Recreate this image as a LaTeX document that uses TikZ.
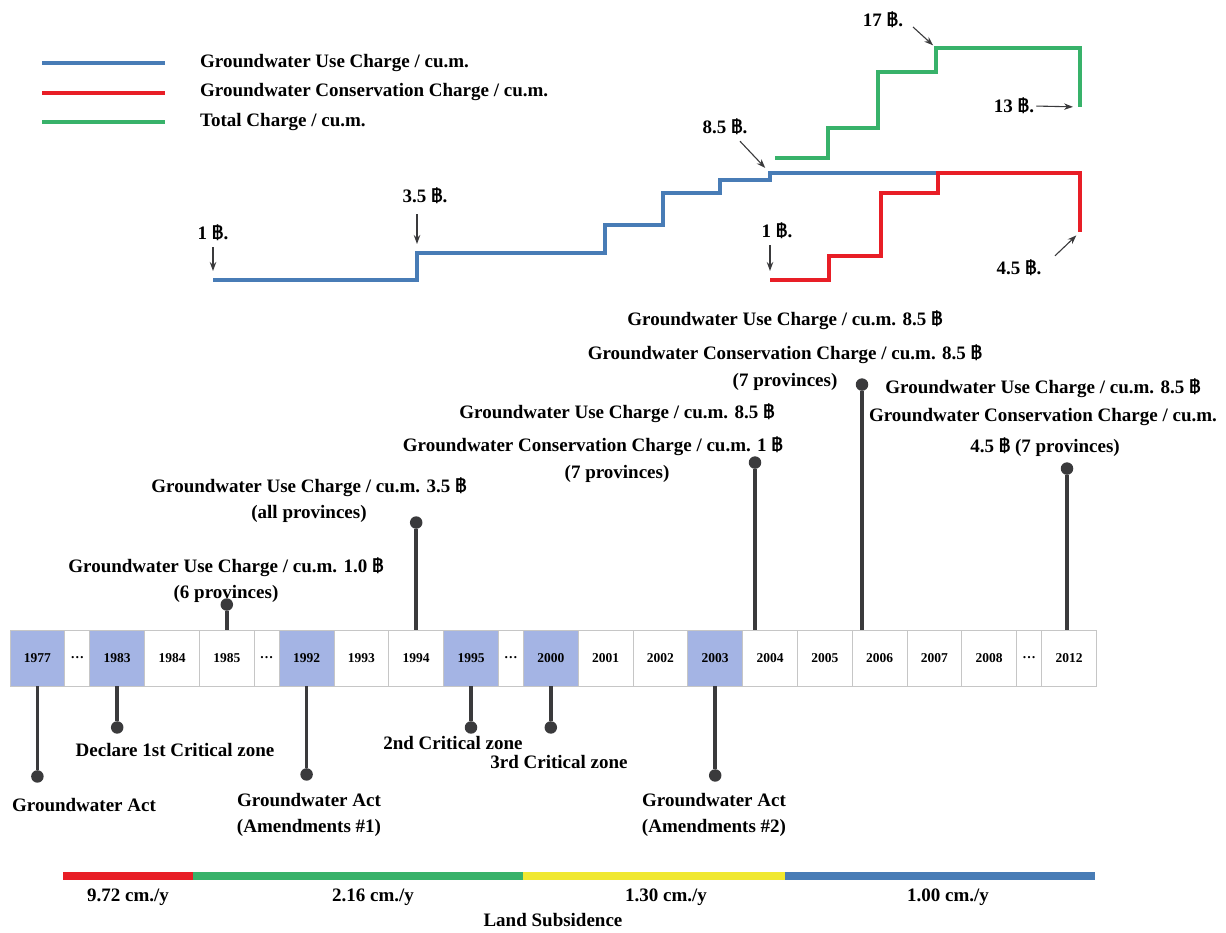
\documentclass[tikz,border=0pt]{standalone}
\usepackage{xcolor}
\usepackage{fontspec}
\setmainfont{Liberation Serif}
\newfontfamily\bahtfont{Loma}
\usepackage{tikz}
\usetikzlibrary{arrows.meta, positioning}
\definecolor{usecharge}{RGB}{72,124,182}
\definecolor{conscharge}{RGB}{232,30,38}
\definecolor{totalcharge}{RGB}{56,178,106}
\definecolor{subsyellow}{RGB}{240,232,48}
\definecolor{critical}{RGB}{164,180,228}
\definecolor{stemgray}{RGB}{58,58,60}
\newcommand{\baht}{{\bahtfont\bfseries ฿}}

\begin{document}
\begin{tikzpicture}[x=1pt, y=-1pt,
    every node/.style={font=\fontsize{19}{26}\selectfont\bfseries},
    note/.style={align=center, inner sep=0pt},
    yearbox/.style={draw=gray!45, line width=1pt, fill=white, minimum width=54.8pt,
        minimum height=56pt, inner sep=0pt, outer sep=0pt,
        font=\fontsize{13.5}{16}\selectfont\bfseries},
    gapbox/.style={yearbox, minimum width=25pt},
    zonebox/.style={yearbox, fill=critical},
    pindot/.style={circle, fill=stemgray, minimum size=12.5pt, inner sep=0pt},
    stem/.style={stemgray, line width=3.6pt},
    stepline/.style={line width=4.2pt},
    pointer/.style={-{Stealth[length=9pt,width=6.5pt]}, stemgray, line width=1.1pt}]
    \useasboundingbox (0,0) rectangle (1226,932);

    % legend
    \draw[stepline, usecharge] (42,63) -- (165,63);
    \draw[stepline, conscharge] (42,93) -- (165,93);
    \draw[stepline, totalcharge] (42,122) -- (165,122);
    \node[note, anchor=west] (leg1) at (200,63) {Groundwater Use Charge / cu.m.};
    \node[note, anchor=west] (leg2) at (200,92) {Groundwater Conservation Charge / cu.m.};
    \node[note, anchor=west] (leg3) at (200,122) {Total Charge / cu.m.};

    % charge steps
    \coordinate (u1) at (213,280);
    \coordinate (u35) at (417,253);
    \coordinate (u85) at (770,173);
    \coordinate (c1) at (770,280);
    \coordinate (c45) at (1080,232);
    \coordinate (t17) at (936,48);
    \coordinate (t13) at (1080,107);
    \draw[stepline, usecharge] (u1) -| (u35) -| (605,225) -| (663,193) -| (720,180) -| (u85) -- (938,173);
    \draw[stepline, conscharge] (c1) -| (829,256) -| (881,193) -| (938,173) -- (1080,173) -- (c45);
    \draw[stepline, totalcharge] (775,158) -| (828,128) -| (878,72) -| (t17) -- (1080,48) -- (t13);

    \node[note] (l1) at (213,233) {1 \baht.};
    \node[note] (l35) at (425,196) {3.5 \baht.};
    \node[note] (l85) at (725,127) {8.5 \baht.};
    \node[note] (l1c) at (777,231) {1 \baht.};
    \node[note] (l45) at (1019,268) {4.5 \baht.};
    \node[note] (l17) at (883,20) {17 \baht.};
    \node[note] (l13) at (1014,106) {13 \baht.};
    \draw[pointer, shorten <=6pt, shorten >=9pt] (l1.south -| u1) -- (u1);
    \draw[pointer, shorten <=10pt, shorten >=9pt] (l35.south -| u35) -- (u35);
    \draw[pointer, shorten <=6pt, shorten >=9pt] (l1c.south -| c1) -- (c1);
    \draw[pointer, shorten >=7pt] ([shift={(15,6)}]l85.south) -- (u85);
    \draw[pointer, shorten >=5pt] ([shift={(36,-4)}]l45.north) -- (c45);
    \draw[pointer, shorten >=4pt] ([shift={(30,7)}]l17.center) -- (t17);
    \draw[pointer, shorten <=2pt, shorten >=7pt] (l13.east) -- (t13);

    % time line
    \node[zonebox] (y1977) at (37.4,658) {1977};
    \foreach \n/\t/\s [remember=\n as \p (initially y1977)] in
        {g1/\dots/gapbox, y1983/1983/zonebox, y1984/1984/yearbox, y1985/1985/yearbox,
         g2/\dots/gapbox, y1992/1992/zonebox, y1993/1993/yearbox, y1994/1994/yearbox,
         y1995/1995/zonebox, g3/\dots/gapbox, y2000/2000/zonebox, y2001/2001/yearbox,
         y2002/2002/yearbox, y2003/2003/zonebox, y2004/2004/yearbox, y2005/2005/yearbox,
         y2006/2006/yearbox, y2007/2007/yearbox, y2008/2008/yearbox, g4/\dots/gapbox,
         y2012/2012/yearbox}
        \node[\s, right=0pt of \p] (\n) {\t};

    % events below
    \node[pindot, below=84pt of y1977] (k1977) {};
    \node[pindot, below=35pt of y1983] (k1983) {};
    \node[pindot, below=82pt of y1992] (k1992) {};
    \node[pindot, below=35pt of y1995] (k1995) {};
    \node[pindot, below=35pt of y2000] (k2000) {};
    \node[pindot, below=83pt of y2003] (k2003) {};
    \foreach \k in {1977,1983,1992,1995,2000,2003}
        \draw[stem] (y\k.south) -- (k\k);

    % charges above
    \node[pindot, above=19pt of y1985] (k1985) {};
    \node[pindot, above=101pt of y1994] (k1994) {};
    \node[pindot, above=161pt of y2004, xshift=-15pt] (k2004) {};
    \node[pindot, above=239pt of y2006, xshift=-17.6pt] (k2006) {};
    \node[pindot, above=155pt of y2012, xshift=-2pt] (k2012) {};
    \foreach \k in {1985,1994,2004,2006,2012}
        \draw[stem] (k\k) -- (k\k |- y\k.north);

    \node[note] (n1977) at (84,805) {Groundwater Act};
    \node[note] (n1983) at (175,750) {Declare 1st Critical zone};
    \node[note] (n1992) at (309,815) {Groundwater Act\\(Amendments \#1)};
    \node[note] (n1995) at (453,743) {2nd Critical zone};
    \node[note] (n2000) at (559,762) {3rd Critical zone};
    \node[note] (n2003) at (714,815) {Groundwater Act\\(Amendments \#2)};

    \node[note] (n1985) at (226,580) {Groundwater Use Charge / cu.m. 1.0 \baht\\(6 provinces)};
    \node[note] (n1994) at (309,500) {Groundwater Use Charge / cu.m. 3.5 \baht\\(all provinces)};
    \node[note] (n2004a) at (617,413) {Groundwater Use Charge / cu.m. 8.5 \baht};
    \node[note] (n2004b) at (593,446) {Groundwater Conservation Charge / cu.m. 1 \baht};
    \node[note] (n2004c) at (617,474) {(7 provinces)};
    \node[note] (n2006a) at (785,320) {Groundwater Use Charge / cu.m. 8.5 \baht};
    \node[note] (n2006b) at (785,354) {Groundwater Conservation Charge / cu.m. 8.5 \baht};
    \node[note] (n2006c) at (785,382) {(7 provinces)};
    \node[note] (n2012a) at (1043,388) {Groundwater Use Charge / cu.m. 8.5 \baht};
    \node[note] (n2012b) at (1043,417) {Groundwater Conservation Charge / cu.m.};
    \node[note] (n2012c) at (1045,447) {4.5 \baht\ (7 provinces)};

    % land subsidence
    \coordinate (s0) at (63,876);
    \coordinate (s1) at (193,876);
    \coordinate (s2) at (523,876);
    \coordinate (s3) at (785,876);
    \coordinate (s4) at (1095,876);
    \draw[line width=8pt, conscharge] (s0) -- (s1);
    \draw[line width=8pt, totalcharge] (s1) -- (s2);
    \draw[line width=8pt, subsyellow] (s2) -- (s3);
    \draw[line width=8pt, usecharge] (s3) -- (s4);
    \node[note] (r1) at (128,897) {9.72 cm./y};
    \node[note] (r2) at (373,897) {2.16 cm./y};
    \node[note] (r3) at (666,897) {1.30 cm./y};
    \node[note] (r4) at (948,897) {1.00 cm./y};
    \node[note] (rt) at (553,920) {Land Subsidence};
\end{tikzpicture}
\end{document}
